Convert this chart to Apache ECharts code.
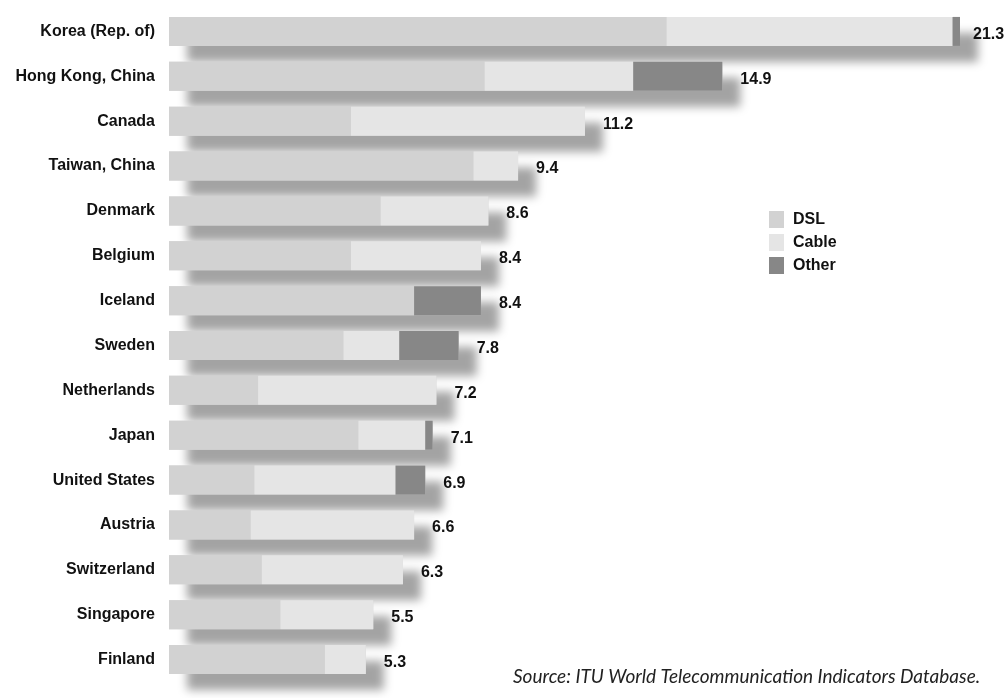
<!DOCTYPE html>
<html>
<head>
<meta charset="utf-8">
<script src="https://cdn.jsdelivr.net/npm/echarts@6/dist/echarts.min.js"></script>
<style>
  html, body { margin: 0; padding: 0; background: #fff; }
  #main { width: 1008px; height: 698px; }
</style>
</head>
<body>
<div id="main"></div>
<script>
// countries, top to bottom
const countries = ['Korea (Rep. of)', 'Hong Kong, China', 'Canada', 'Taiwan, China', 'Denmark', 'Belgium',
  'Iceland', 'Sweden', 'Netherlands', 'Japan', 'United States', 'Austria', 'Switzerland', 'Singapore', 'Finland'];
const dsl   = [13.4, 8.5, 4.9, 8.2, 5.7, 4.9, 6.6, 4.7, 2.4, 5.1, 2.3, 2.2, 2.5, 3.0, 4.2];
const cable = [7.7, 4.0, 6.3, 1.2, 2.9, 3.5, 0, 1.5, 4.8, 1.8, 3.8, 4.4, 3.8, 2.5, 1.1];
const other = [0.2, 2.4, 0, 0, 0, 0, 1.8, 1.6, 0, 0.2, 0.8, 0, 0, 0, 0];
const totals = [21.3, 14.9, 11.2, 9.4, 8.6, 8.4, 8.4, 7.8, 7.2, 7.1, 6.9, 6.6, 6.3, 5.5, 5.3];

const boldFont = "'Liberation Sans', Arial, sans-serif";

const chart = echarts.init(document.getElementById('main'));

const seg = (name, data, color) => ({
  name: name,
  type: 'bar',
  stack: 'total',
  data: data,
  barWidth: 29,
  itemStyle: { color: color },
  emphasis: { disabled: true },
  z: 3
});

// the longest bar sits near the edge, its label a bit closer
const totalData = totals.map((v, i) => i === 0 ? { value: v, label: { distance: 13 } } : v);

chart.setOption({
  animation: false,
  backgroundColor: '#fff',
  grid: { left: 169, right: 22, top: 9, bottom: 16, outerBoundsMode: 'none', containLabel: false },
  xAxis: {
    type: 'value', min: 0, max: 22,
    show: false
  },
  yAxis: {
    type: 'category',
    data: countries,
    inverse: true,
    axisLine: { show: false },
    axisTick: { show: false },
    axisLabel: {
      margin: 14,
      color: '#111',
      fontFamily: boldFont,
      fontWeight: 'bold',
      fontSize: 16,
      padding: [3, 0, 0, 0]
    }
  },
  legend: {
    data: ['DSL', 'Cable', 'Other'],
    orient: 'vertical',
    left: 769, top: 211,
    padding: 0,
    itemWidth: 15, itemHeight: 17, itemGap: 6,
    icon: 'rect',
    textStyle: {
      fontFamily: boldFont, fontWeight: 'bold', fontSize: 16, color: '#111',
      padding: [0, 0, 0, 4]
    }
  },
  graphic: [{
    type: 'text',
    left: 513, top: 667,
    style: {
      text: 'Source: ITU World Telecommunication Indicators Database.',
      font: "italic 19px Lato, 'Open Sans', sans-serif",
      fill: '#222'
    }
  }],
  series: [
    {
      // drop shadow behind the whole stack, also carries the total label
      name: 'shadow',
      type: 'bar',
      data: totalData,
      barWidth: 29,
      barGap: '-100%',
      itemStyle: {
        color: '#d2d2d2',
        shadowColor: 'rgba(0,0,0,0.36)',
        shadowBlur: 10,
        shadowOffsetX: 18,
        shadowOffsetY: 16
      },
      label: {
        show: true,
        position: 'right',
        distance: 18,
        offset: [0, 3],
        formatter: p => p.value.toFixed(1),
        fontFamily: boldFont,
        fontWeight: 'bold',
        fontSize: 16,
        color: '#111'
      },
      emphasis: { disabled: true },
      z: 1
    },
    seg('DSL', dsl, '#d2d2d2'),
    seg('Cable', cable, '#e5e5e5'),
    seg('Other', other, '#878787')
  ]
});
</script>
</body>
</html>
